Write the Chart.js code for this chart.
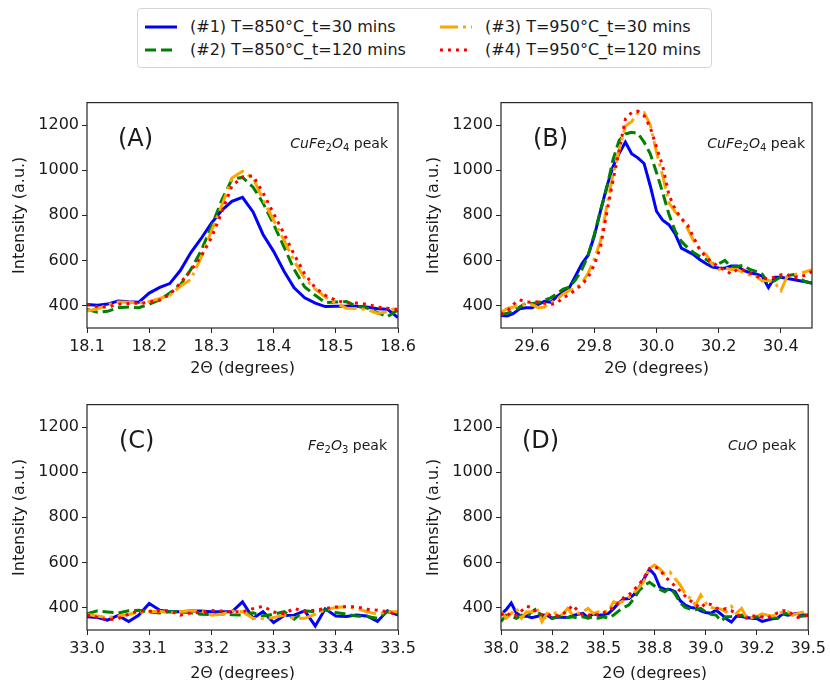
<!DOCTYPE html>
<html>
<head>
<meta charset="utf-8">
<script src="https://cdn.jsdelivr.net/npm/chart.js@4.4.1/dist/chart.umd.min.js"></script>
<style>
  html, body { margin: 0; padding: 0; background: #fff; }
  body { width: 830px; height: 680px; position: relative; overflow: hidden; font-family: 'DejaVu Sans', sans-serif; }
  canvas { position: absolute; }
  #legend { position: absolute; left: 137px; top: 8px; width: 573px; height: 58px; border: 1px solid #d6d6d6; border-radius: 4px; background: #fff; }
  .item { position: absolute; height: 20px; font-size: 16px; line-height: 20px; color: #1a1a1a; white-space: nowrap; }
  .item svg { position: absolute; left: 0; top: 7px; }
  .item span { position: absolute; left: 45px; top: 0; }
</style>
</head>
<body>
<div id="legend"></div>
<canvas id="cA" width="420" height="300" style="left:0;top:90px"></canvas>
<canvas id="cB" width="416" height="300" style="left:414px;top:90px"></canvas>
<canvas id="cC" width="420" height="288" style="left:0;top:392px"></canvas>
<canvas id="cD" width="416" height="288" style="left:414px;top:392px"></canvas>
<script>
// ---- series ----
const seriesLabels = ['(#1) T=850°C_t=30 mins', '(#2) T=850°C_t=120 mins', '(#3) T=950°C_t=30 mins', '(#4) T=950°C_t=120 mins'];
const seriesColors = ['#0000ff', '#008000', '#ffa500', '#ff0000'];
const seriesDash = [[], [11, 5], [18, 5, 3, 5], [3, 5]];

// ---- axis ticks ----
const yTicks = [400, 600, 800, 1000, 1200];
const xTicksA = [18.1, 18.2, 18.3, 18.4, 18.5, 18.6];
const xLabelsA = ['18.1', '18.2', '18.3', '18.4', '18.5', '18.6'];
const xTicksB = [29.6, 29.8, 30.0, 30.2, 30.4];
const xLabelsB = ['29.6', '29.8', '30.0', '30.2', '30.4'];
const xTicksC = [33.0, 33.1, 33.2, 33.3, 33.4, 33.5];
const xLabelsC = ['33.0', '33.1', '33.2', '33.3', '33.4', '33.5'];
const xTicksD = [38.0, 38.25, 38.5, 38.75, 39.0, 39.25, 39.5];
const xLabelsD = ['38.0', '38.2', '38.5', '38.8', '39.0', '39.2', '39.5'];

// ---- panel A (CuFe2O4) ----
const xA = [18.100,18.117,18.133,18.150,18.167,18.183,18.200,18.217,18.233,18.250,18.267,18.283,18.300,18.317,18.333,18.350,
            18.367,18.383,18.400,18.417,18.433,18.450,18.467,18.483,18.500,18.517,18.533,18.550,18.567,18.583,18.600];
const A1 = [404,401,406,420,416,414,455,480,497,555,635,695,765,823,862,880,815,715,640,551,478,434,410,395,397,397,396,393,385,383,346];
const A2 = [382,370,374,390,393,390,405,425,455,490,560,640,750,870,960,968,925,855,760,658,560,482,445,413,415,417,397,389,368,350,380];
const A3 = [375,385,403,415,414,410,418,431,445,485,516,610,730,845,965,995,965,870,778,688,597,520,472,438,410,388,386,382,365,372,395];
const A4 = [404,394,393,405,409,410,414,424,448,500,555,615,700,816,930,970,975,900,808,717,626,540,478,445,423,411,411,405,393,388,382];

// ---- panel B (CuFe2O4) ----
const xB = [29.50,29.52,29.54,29.56,29.58,29.60,29.62,29.64,29.66,29.68,29.70,29.72,29.74,29.76,29.78,29.80,29.82,29.84,29.86,29.88,
            29.90,29.92,29.94,29.96,29.98,30.00,30.02,30.04,30.06,30.08,30.10,30.12,30.14,30.16,30.18,30.20,30.22,30.24,30.26,30.28,
            30.30,30.32,30.34,30.36,30.38,30.40,30.42,30.44,30.46,30.48,30.50];
const B1 = [355,353,365,385,390,390,405,418,415,440, 460,480,532,585,623,708,820,926,1015,1075, 1125,1073,1055,1030,930,818,778,758,717,654,
            640,625,603,585,570,566,565,575,575,555, 545,540,530,480,525,525,520,515,510,505, 498];
const B2 = [360,366,375,393,410,409,412,424,434,452, 473,481,515,559,622,715,822,920,1046,1133, 1161,1168,1164,1125,1073,990,900,805,730,684,
            657,634,617,604,585,585,600,570,573,578, 560,551,539,500,510,527,532,537,520,505, 500];
const B3 = [368,387,393,400,405,403,390,393,412,427, 451,467,475,500,543,605,685,840,980,1090, 1197,1215,1255,1256,1201,1080,975,855,815,786,
            740,685,647,625,582,560,566,559,559,545, 535,529,509,512,500,466,529,537,542,550, 559];
const B4 = [360,375,405,425,416,414,416,410,404,411, 435,448,470,492,525,580,660,810,954,1087, 1227,1256,1262,1242,1190,1102,1018,890,827,786,
            756,700,646,613,590,573,556,540,560,557, 544,530,522,517,526,536,538,522,526,535, 551];

// ---- panel C (Fe2O3) ----
const xC = [33.000,33.017,33.033,33.050,33.067,33.083,33.100,33.117,33.133,33.150,33.167,33.183,33.200,33.217,33.233,33.250,
            33.267,33.283,33.300,33.317,33.333,33.350,33.367,33.383,33.400,33.417,33.433,33.450,33.467,33.483,33.500];
const C1 = [359,355,344,365,338,365,418,388,381,381,384,384,381,381,381,425,352,381,333,364,366,385,318,394,362,360,366,362,338,385,366];
const C2 = [372,385,380,375,385,388,380,376,381,381,376,370,368,372,368,366,376,362,370,381,348,385,381,390,378,370,362,360,352,381,374];
const C3 = [369,362,355,362,370,378,382,383,376,382,384,386,366,370,384,381,352,350,355,366,352,352,370,390,400,403,396,381,370,381,381];
const C4 = [366,356,345,350,370,385,383,384,386,366,376,378,386,384,381,381,395,405,380,372,396,381,388,396,402,403,403,392,388,381,366];

// ---- panel D (CuO) ----
const xD = [38.000,38.025,38.050,38.075,38.100,38.125,38.150,38.175,38.200,38.225,38.250,38.275,38.300,38.325,38.350,38.375,
            38.400,38.425,38.450,38.475,38.500,38.525,38.550,38.575,38.600,38.625,38.650,38.675,38.700,38.725,38.750,38.775,
            38.800,38.825,38.850,38.875,38.900,38.925,38.950,38.975,39.000,39.025,39.050,39.075,39.100,39.125,39.150,39.175,
            39.200,39.225,39.250,39.275,39.300,39.325,39.350,39.375,39.400,39.425,39.450,39.475,39.500];
const D1 = [370,390,420,375,360,362,355,360,365,366, 352,358,356,355,364,370,374,355,372,366, 368,374,395,420,438,440,458,490,530,570,
            545,490,480,480,470,430,410,400,398,385, 378,374,388,370,350,335,362,360,355,352, 350,338,344,350,352,372,366,370,374,368, 366];
const D2 = [337,366,360,352,366,359,380,396,352,359, 352,359,364,355,359,352,359,352,359,352, 359,352,366,385,400,412,440,475,498,512,
            495,480,470,488,460,420,400,392,390,396, 380,370,366,340,359,360,362,366,359,355, 359,362,366,355,352,370,374,366,359,362, 366];
const D3 = [381,352,374,396,352,381,380,396,337,374, 366,381,368,396,366,374,381,396,374,381, 378,385,425,418,430,445,465,490,520,575,
            588,571,549,557,527,500,460,440,410,455, 420,400,396,392,380,405,375,396,352,355, 360,372,366,362,372,380,382,366,374,380, 390];
const D4 = [366,380,360,366,385,405,400,378,368,372, 360,364,370,385,410,386,366,365,373,367, 376,388,400,422,444,456,480,502,535,572,
            582,568,538,516,495,473,450,430,414,397, 420,413,398,390,395,386,372,357,352,362, 362,357,353,364,376,385,385,368,356,358, 366];

const TEXT = '#1a1a1a';
const FRAME = '#262626';
Chart.defaults.font.family = "'DejaVu Sans', sans-serif";
Chart.defaults.color = TEXT;

const panels = [
  { id: 'cA', x: xA, ys: [A1, A2, A3, A4], min: 18.1, max: 18.6, ticks: xTicksA, labels: xLabelsA,
    tag: '(A)', note: [['CuFe', 'i'], ['2', 's'], ['O', 'i'], ['4', 's'], [' peak', 'r']],
    pad: { top: 12, right: 22, bottom: 12, left: 0 }, tagDx: 31, noteDx: 10, titleBottom: 0 },
  { id: 'cB', x: xB, ys: [B1, B2, B3, B4], min: 29.5, max: 30.5, ticks: xTicksB, labels: xLabelsB,
    tag: '(B)', note: [['CuFe', 'i'], ['2', 's'], ['O', 'i'], ['4', 's'], [' peak', 'r']],
    pad: { top: 12, right: 18, bottom: 12, left: 0 }, tagDx: 32, noteDx: 7, titleBottom: 0 },
  { id: 'cC', x: xC, ys: [C1, C2, C3, C4], min: 33.0, max: 33.5, ticks: xTicksC, labels: xLabelsC,
    tag: '(C)', note: [['Fe', 'i'], ['2', 's'], ['O', 'i'], ['3', 's'], [' peak', 'r']],
    pad: { top: 12, right: 22, bottom: 0, left: 0 }, tagDx: 32, noteDx: 11, titleBottom: -3 },
  { id: 'cD', x: xD, ys: [D1, D2, D3, D4], min: 38.0, max: 39.5, ticks: xTicksD, labels: xLabelsD,
    tag: '(D)', note: [['CuO', 'i'], [' peak', 'r']],
    pad: { top: 12, right: 18, bottom: 0, left: 0 }, tagDx: 21, noteDx: 12, titleBottom: -3 }
];

// frame, panel tag and phase note (axes-fraction style placement)
const panelDecor = {
  id: 'panelDecor',
  afterDatasetsDraw(chart, args, opts) {
    const { ctx, chartArea: a } = chart;
    ctx.save();
    ctx.strokeStyle = FRAME;
    ctx.lineWidth = 1.2;
    ctx.strokeRect(a.left, a.top, a.right - a.left, a.bottom - a.top);

    ctx.fillStyle = TEXT;
    ctx.font = "24px 'DejaVu Sans'";
    ctx.textAlign = 'left';
    ctx.textBaseline = 'middle';
    ctx.fillText(opts.tag, a.left + opts.tagDx, a.top + 37);

    const fonts = { i: "italic 14px 'DejaVu Sans'", s: "10px 'DejaVu Sans'", r: "14px 'DejaVu Sans'" };
    let w = 0;
    opts.note.forEach(([t, s]) => { ctx.font = fonts[s]; w += ctx.measureText(t).width; });
    let x = a.right - opts.noteDx - w;
    const y = a.top + 45;
    ctx.textBaseline = 'alphabetic';
    opts.note.forEach(([t, s]) => {
      ctx.font = fonts[s];
      ctx.fillText(t, x, y + (s === 's' ? 3 : 0));
      x += ctx.measureText(t).width;
    });
    ctx.restore();
  }
};

panels.forEach(p => {
  const datasets = p.ys.map((ys, k) => ({
    label: seriesLabels[k],
    data: p.x.map((x, i) => ({ x: x, y: ys[i] })),
    borderColor: seriesColors[k],
    borderWidth: 3,
    borderDash: seriesDash[k],
    pointRadius: 0,
    fill: false,
    tension: 0,
    clip: 0,
    order: 4 - k
  }));

  new Chart(document.getElementById(p.id), {
    type: 'line',
    data: { datasets },
    plugins: [panelDecor],
    options: {
      responsive: false,
      animation: false,
      devicePixelRatio: 1,
      layout: { padding: p.pad },
      plugins: {
        legend: { display: false },
        tooltip: { enabled: false },
        panelDecor: { tag: p.tag, note: p.note, tagDx: p.tagDx, noteDx: p.noteDx }
      },
      scales: {
        x: {
          type: 'linear',
          min: p.min,
          max: p.max,
          afterBuildTicks: s => { s.ticks = p.ticks.map(v => ({ value: v })); },
          afterFit: s => { s.height = 50; },
          ticks: { autoSkip: false, maxRotation: 0, padding: 4, font: { size: 16 }, callback: (v, i) => p.labels[i] },
          grid: { drawOnChartArea: false, drawTicks: true, tickLength: 5, color: FRAME },
          border: { display: false },
          title: { display: true, text: '2Θ (degrees)', font: { size: 16 }, padding: { top: 0, bottom: p.titleBottom } }
        },
        y: {
          min: 300,
          max: 1300,
          afterBuildTicks: s => { s.ticks = yTicks.map(v => ({ value: v })); },
          afterFit: s => { s.width = 87; },
          ticks: { padding: 3, font: { size: 16 }, callback: v => String(v) },
          grid: { drawOnChartArea: false, drawTicks: true, tickLength: 5, color: FRAME },
          border: { display: false },
          title: { display: true, text: 'Intensity (a.u.)', font: { size: 16 }, padding: { top: 10, bottom: 0 } }
        }
      }
    }
  });
});

// legend, two columns filled column by column
const legend = document.getElementById('legend');
seriesLabels.forEach((lab, k) => {
  const col = Math.floor(k / 2), row = k % 2;
  const item = document.createElement('div');
  item.className = 'item';
  item.style.left = (7 + col * 295) + 'px';
  item.style.top = (8 + row * 23) + 'px';
  item.innerHTML =
    '<svg width="32" height="6"><line x1="0" y1="3" x2="32" y2="3" stroke="' + seriesColors[k] +
    '" stroke-width="3" stroke-dasharray="' + (seriesDash[k].length ? seriesDash[k].join(' ') : 'none') + '"/></svg>' +
    '<span></span>';
  item.querySelector('span').textContent = lab;
  legend.appendChild(item);
});
</script>
</body>
</html>
